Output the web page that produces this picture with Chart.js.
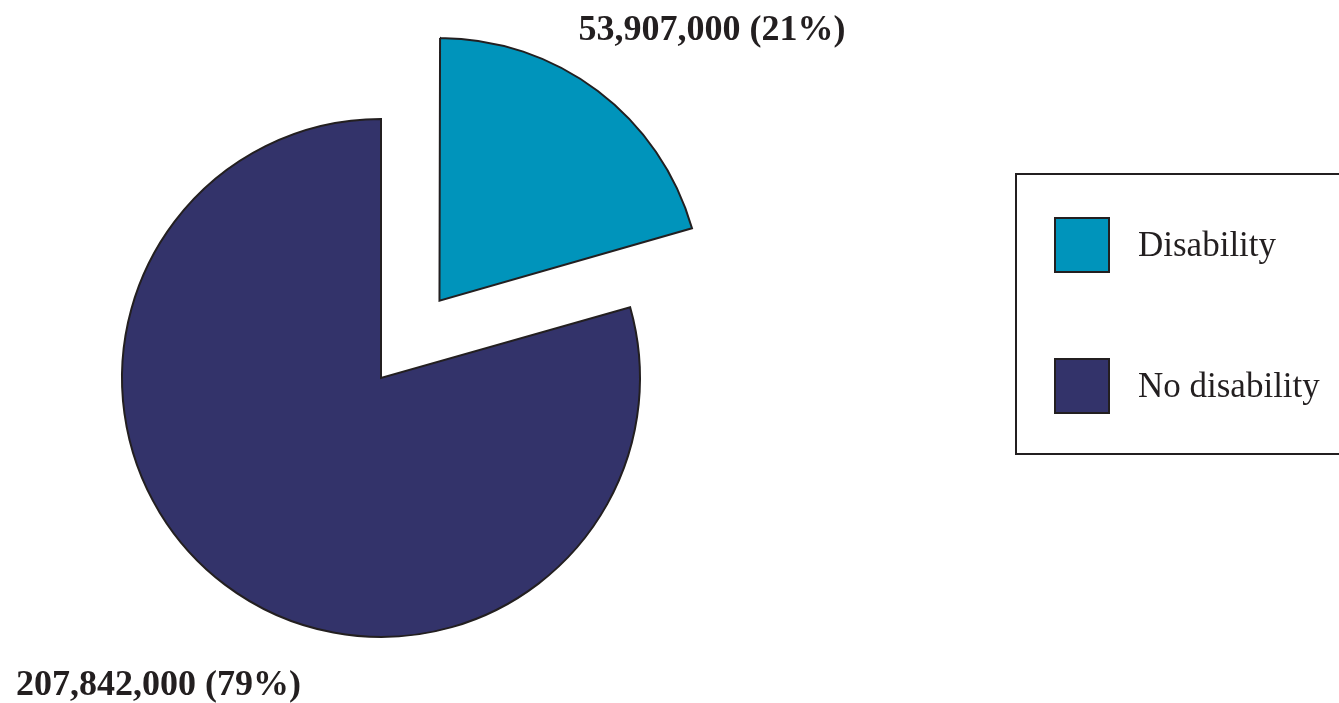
<!DOCTYPE html>
<html>
<head>
<meta charset="utf-8">
<script src="https://cdn.jsdelivr.net/npm/chart.js@4/dist/chart.umd.min.js"></script>
<style>
  html, body { margin: 0; padding: 0; background: #fff; overflow: hidden; }
  #wrap { position: relative; width: 1339px; height: 703px; }
  #pie { position: absolute; left: 0; top: 0; }
  #legend {
    position: absolute; left: 1015px; top: 173px; width: 340px; height: 282px;
    border: 2px solid #231f20; box-sizing: border-box;
    font-family: 'Liberation Serif', 'Times New Roman', serif; font-size: 35px; color: #231f20;
  }
  .item { position: absolute; left: 37px; display: flex; align-items: center; }
  .swatch { width: 52px; height: 52px; border: 2px solid #231f20; margin-right: 28px; }
</style>
</head>
<body>
<div id="wrap">
  <canvas id="pie" width="1339" height="703"></canvas>
  <div id="legend"></div>
</div>
<script>
const categories = ['Disability', 'No disability'];
const counts = [53907000, 207842000];
const colors = ['#0094bb', '#33336a'];
const explode = [388, 0]; // arc offset (Chart.js draws offset / 4)

const total = counts.reduce((a, b) => a + b, 0);
const labelText = counts.map(v => v.toLocaleString('en-US') + ' (' + Math.round(v / total * 100) + '%)');

// Legend built from the categories
const legendEl = document.getElementById('legend');
categories.forEach((name, i) => {
    const row = document.createElement('div');
    row.className = 'item';
    row.style.top = (i === 0 ? 42 : 183) + 'px';
    row.innerHTML = '<div class="swatch" style="background:' + colors[i] + '"></div><span>' + name + '</span>';
    legendEl.appendChild(row);
});

// Value labels, drawn on the canvas after the arcs
const valueLabels = {
    id: 'valueLabels',
    afterDraw(chart) {
        const ctx = chart.ctx;
        ctx.save();
        ctx.fillStyle = '#231f20';
        ctx.font = 'bold 36px "Liberation Serif", serif';
        ctx.textBaseline = 'alphabetic';
        ctx.textAlign = 'center';
        ctx.fillText(labelText[0], 712, 40);
        ctx.textAlign = 'left';
        ctx.fillText(labelText[1], 16, 695);
        ctx.restore();
    }
};

new Chart(document.getElementById('pie').getContext('2d'), {
    type: 'pie',
    data: {
        labels: categories,
        datasets: [{
            data: counts,
            backgroundColor: colors,
            borderColor: '#231f20',
            borderWidth: 2,
            borderJoinStyle: 'miter',
            offset: explode
        }]
    },
    options: {
        responsive: false,
        animation: false,
        radius: 259,
        layout: { padding: { top: 53, bottom: 0, left: 0, right: 577 } },
        plugins: {
            legend: { display: false },
            tooltip: { enabled: false }
        }
    },
    plugins: [valueLabels]
});
</script>
</body>
</html>
